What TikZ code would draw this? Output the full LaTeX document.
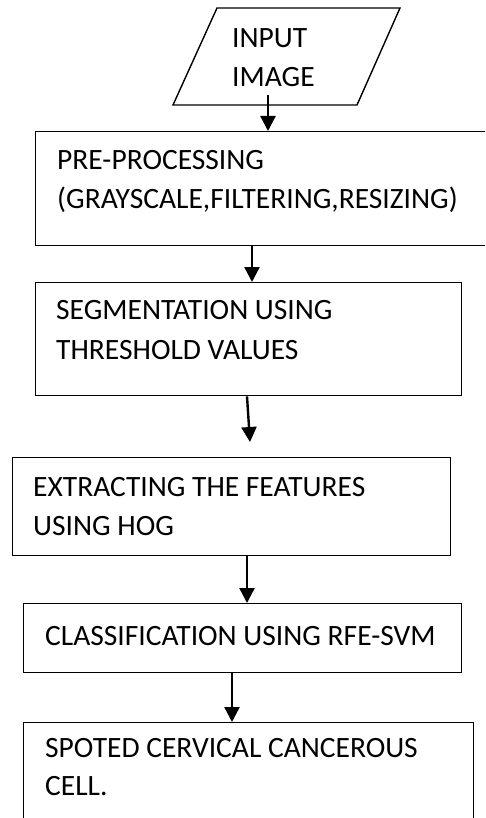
\documentclass[tikz,border=0pt]{standalone}
\usepackage{fontspec}
\setmainfont{Carlito}
\usetikzlibrary{arrows.meta}
\begin{document}
\begin{tikzpicture}[x=1pt,y=-1pt,
  box/.style={draw=black, line width=1.4pt, rectangle, inner sep=0pt, anchor=north west},
  lbl/.style={anchor=base west, inner sep=0pt, font=\fontsize{29.5pt}{38pt}\selectfont},
  arr/.style={line width=2.4pt, -{Triangle[width=15pt,length=15pt]}}]
\useasboundingbox (0,0) rectangle (485,818);
\clip (0,0) rectangle (485,818);
% input parallelogram
\draw[line width=1.4pt] (217,8) -- (400,8) -- (357,105) -- (173,105) -- cycle;
\node[lbl] (tin1) at (232,48) {INPUT};
\node[lbl] (tin2) at (232,87) {IMAGE};
\coordinate (inA) at (268,95);
% boxes
\node[box, minimum width=460pt, minimum height=114pt] (b1) at (35,131) {};
\node[box, minimum width=426pt, minimum height=113pt] (b2) at (35,282) {};
\node[box, minimum width=438pt, minimum height=98pt] (b3) at (12,457) {};
\node[box, minimum width=438pt, minimum height=69pt] (b4) at (23,603) {};
\node[box, minimum width=450pt, minimum height=110pt] (b5) at (23,722) {};
% texts
\node[lbl] (t1a) at (57,170) {PRE-PROCESSING};
\node[lbl] (t1b) at (57,209) {(GRAYSCALE,FILTERING,RESIZING)};
\node[lbl] (t2a) at (56,319) {SEGMENTATION USING};
\node[lbl] (t2b) at (56,359) {THRESHOLD VALUES};
\node[lbl] (t3a) at (33,496) {EXTRACTING THE FEATURES};
\node[lbl] (t3b) at (33,535) {USING HOG};
\node[lbl] (t4a) at (45,645) {CLASSIFICATION USING RFE-SVM};
\node[lbl] (t5a) at (45,757) {SPOTED CERVICAL CANCEROUS};
\node[lbl] (t5b) at (45,795) {CELL.};
% connector anchors
\coordinate (x1) at (268,0);
\coordinate (x2) at (252,0);
\coordinate (x3s) at (247,0);
\coordinate (a3e) at (250,442);
\coordinate (x4) at (247,0);
\coordinate (x5) at (232,0);
% arrows
\draw[arr] (inA) -- (b1.north -| x1);
\draw[arr] (b2.north -| x2) ++(0,-37) coordinate (a2s) (a2s) -- (b2.north -| x2);
\draw[arr] (b2.south -| x3s) -- (a3e);
\draw[arr] (b3.south -| x4) -- (b4.north -| x4);
\draw[arr] (b4.south -| x5) -- (b5.north -| x5);
\end{tikzpicture}
\end{document}
